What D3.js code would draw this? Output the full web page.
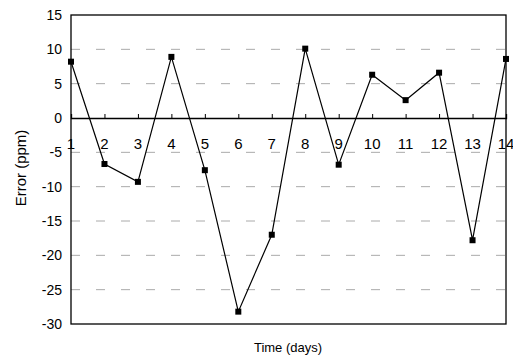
<!DOCTYPE html>
<html><head><meta charset="utf-8">
<script src="https://cdn.jsdelivr.net/npm/d3@7"></script>
<style>body{margin:0;background:#fff}</style>
</head><body>
<svg id="c" width="513" height="360"></svg>
<script>
const days = [1,2,3,4,5,6,7,8,9,10,11,12,13,14];
const errors = [8.2,-6.7,-9.3,8.9,-7.6,-28.2,-17.0,10.1,-6.8,6.3,2.6,6.6,-17.8,8.6];
const yTicks = [15,10,5,0,-5,-10,-15,-20,-25,-30];
const gridVals = [10,5,-5,-10,-15,-20,-25];

const svg = d3.select("#c");
const x = d3.scaleLinear().domain([1,14]).range([71,506]);
const y = d3.scaleLinear().domain([-30,15]).range([324,15]);
const font = "Arial, 'Liberation Sans', sans-serif";

// gridlines
svg.append("g").selectAll("line").data(gridVals).join("line")
  .attr("x1",x(1)).attr("x2",x(14))
  .attr("y1",d=>y(d)).attr("y2",d=>y(d))
  .attr("stroke","#aaa").attr("stroke-width",1)
  .attr("stroke-dasharray","9,16");

// frame
svg.append("rect").attr("x",x(1)).attr("y",y(15))
  .attr("width",x(14)-x(1)).attr("height",y(-30)-y(15))
  .attr("fill","none").attr("stroke","#000").attr("stroke-width",1.3);

// zero line axis with ticks
const xAxis = d3.axisTop(x).tickValues(days).tickSize(4).tickFormat("");
const gx = svg.append("g").attr("transform",`translate(0,${y(0)})`).call(xAxis);
gx.select(".domain").attr("stroke","#000").attr("stroke-width",1.3);
gx.selectAll(".tick line").attr("stroke","#000");

// x labels below zero line
svg.append("g").selectAll("text").data(days).join("text")
  .attr("x",d=>x(d)).attr("y",y(0)+31)
  .attr("text-anchor","middle").attr("font-family",font).attr("font-size",15)
  .text(d=>d);

// y axis labels
const yAxis = d3.axisLeft(y).tickValues(yTicks).tickSize(0).tickPadding(9).tickFormat(d=>String(d));
const gy = svg.append("g").attr("transform",`translate(${x(1)},0)`).call(yAxis);
gy.select(".domain").remove();
gy.selectAll("text").attr("font-family",font).attr("font-size",14).attr("fill","#000");

// line
svg.append("path").datum(days.map((d,i)=>[d,errors[i]]))
  .attr("fill","none").attr("stroke","#000").attr("stroke-width",1.2)
  .attr("d",d3.line().x(d=>x(d[0])).y(d=>y(d[1])));

// markers
svg.append("g").selectAll("rect").data(days.map((d,i)=>[d,errors[i]])).join("rect")
  .attr("x",d=>x(d[0])-3).attr("y",d=>y(d[1])-3)
  .attr("width",6).attr("height",6).attr("fill","#000");

// axis titles
svg.append("text").attr("x",288).attr("y",352).attr("text-anchor","middle")
  .attr("font-family",font).attr("font-size",13).text("Time (days)");
svg.append("text").attr("transform","translate(26,168) rotate(-90)")
  .attr("text-anchor","middle").attr("font-family",font).attr("font-size",15)
  .text("Error (ppm)");
</script>
</body></html>
